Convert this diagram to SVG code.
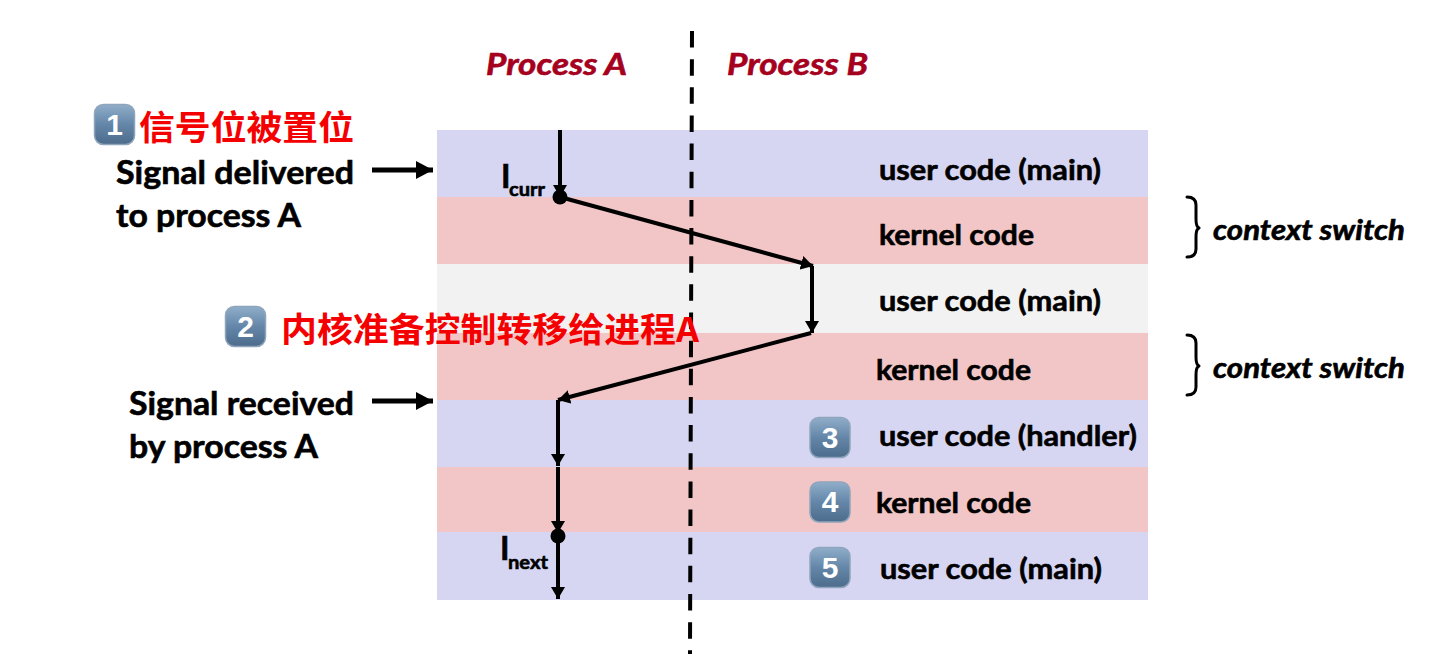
<svg xmlns="http://www.w3.org/2000/svg" width="1440" height="663" viewBox="0 0 1440 663">
<style>
text{font-family:"Lato","Liberation Sans",sans-serif;font-weight:700;fill:#000;stroke:#000;stroke-width:.6}
.l{font-size:32px}
.c{font-size:29px}
.i{font-size:28px;font-style:italic}
.h{font-size:31px;font-style:italic;fill:#a5001e;stroke:#a5001e}
.r{font-family:"Noto Sans CJK SC","Noto Sans",sans-serif;font-size:34px;font-weight:700;fill:#f50000;stroke:none}
.n{font-family:"Liberation Sans",sans-serif;font-size:30px;font-weight:700;fill:#fff;stroke:none;text-anchor:middle}
.s{font-size:19px}
.w{fill:none;stroke:#000;stroke-width:5}
.t{fill:none;stroke:#000;stroke-width:4;marker-end:url(#a)}
.b{fill:none;stroke:#000;stroke-width:3;stroke-linecap:round;stroke-linejoin:round}
.bd{fill:url(#g);stroke:#8fa5bb;stroke-width:1.5}
</style>
<defs>
<linearGradient id="g" x1="0" y1="0" x2="0" y2="1"><stop offset="0" stop-color="#90aeca"/><stop offset=".5" stop-color="#6486a8"/><stop offset="1" stop-color="#4d6c8c"/></linearGradient>
<marker id="a" markerUnits="userSpaceOnUse" markerWidth="14" markerHeight="14" refX="12" refY="7" orient="auto"><path d="M0 0L12 7L0 14Z" fill="#000"/></marker>
<marker id="big" markerUnits="userSpaceOnUse" markerWidth="18" markerHeight="18" refX="17" refY="9" orient="auto"><path d="M0 0L17 9L0 18Z" fill="#000"/></marker>
</defs>
<rect width="1440" height="663" fill="#fff"/>
<g id="bands">
<rect x="437" y="130" width="711" height="67" fill="#d6d6f3"/>
<rect x="437" y="197" width="711" height="67" fill="#f2c6c6"/>
<rect x="437" y="264" width="711" height="69" fill="#f2f2f2"/>
<rect x="437" y="333" width="711" height="67" fill="#f2c6c6"/>
<rect x="437" y="400" width="711" height="67" fill="#d6d6f3"/>
<rect x="437" y="467" width="711" height="65" fill="#f2c6c6"/>
<rect x="437" y="532" width="711" height="68" fill="#d6d6f3"/>
</g>
<g id="connectors">
<path d="M692 31L690 654" fill="none" stroke="#000" stroke-width="4" stroke-dasharray="16.500 11.650"/>
<path class="t" d="M560 130V197"/>
<path class="t" d="M560 197L813 266"/>
<path class="t" d="M812 266V333"/>
<path class="t" d="M811 333L558 400"/>
<path class="t" d="M558 400V466"/>
<path class="t" d="M558 467V533"/>
<path class="t" d="M558 536V599"/>
<circle cx="560" cy="197" r="7.500"/>
<circle cx="558" cy="536" r="7.500"/>
<path d="M372 170H433" class="w" marker-end="url(#big)"/>
<path d="M372 401H433" class="w" marker-end="url(#big)"/>
<path class="b" d="M1187 197Q1196 197 1196 205V219Q1196 227 1199 228Q1196 229 1196 237V249Q1196 257 1187 257"/>
<path class="b" d="M1187 335Q1196 335 1196 343V357Q1196 365 1199 366Q1196 367 1196 375V387Q1196 395 1187 395"/>
</g>
<g id="header-a"><text class="h" x="486" y="75" textLength="141" lengthAdjust="spacingAndGlyphs">Process A</text></g>
<g id="header-b"><text class="h" x="727" y="75" textLength="141" lengthAdjust="spacingAndGlyphs">Process B</text></g>
<g id="step1">
<rect class="bd" x="94.500" y="104.500" width="40" height="40" rx="9"/><text class="n" x="114.500" y="135">1</text>
<text class="r" x="139" y="140" textLength="215" lengthAdjust="spacingAndGlyphs">信号位被置位</text>
</g>
<g id="delivered">
<text class="l" x="116" y="184" textLength="238" lengthAdjust="spacingAndGlyphs">Signal delivered</text>
<text class="l" x="116" y="227" textLength="185" lengthAdjust="spacingAndGlyphs">to process A</text>
</g>
<g id="step2">
<rect class="bd" x="225.500" y="306.500" width="40" height="40" rx="9"/><text class="n" x="245.500" y="337">2</text>
<text class="r" x="281" y="342" textLength="418" lengthAdjust="spacingAndGlyphs">内核准备控制转移给进程A</text>
</g>
<g id="received">
<text class="l" x="129" y="415" textLength="225" lengthAdjust="spacingAndGlyphs">Signal received</text>
<text class="l" x="129" y="458" textLength="189" lengthAdjust="spacingAndGlyphs">by process A</text>
</g>
<g id="icurr"><text class="l" x="501" y="188">I</text><text class="s" x="509" y="196" textLength="36" lengthAdjust="spacingAndGlyphs">curr</text></g>
<g id="inext"><text class="l" x="500" y="560">I</text><text class="s" x="508" y="569" textLength="40" lengthAdjust="spacingAndGlyphs">next</text></g>
<g id="row1"><text class="c" x="879" y="180" textLength="222" lengthAdjust="spacingAndGlyphs">user code (main)</text></g>
<g id="row2"><text class="c" x="879" y="245" textLength="155" lengthAdjust="spacingAndGlyphs">kernel code</text></g>
<g id="row3"><text class="c" x="879" y="311" textLength="222" lengthAdjust="spacingAndGlyphs">user code (main)</text></g>
<g id="row4"><text class="c" x="876" y="380" textLength="155" lengthAdjust="spacingAndGlyphs">kernel code</text></g>
<g id="row5">
<rect class="bd" x="810" y="417.500" width="40" height="40" rx="9"/><text class="n" x="830" y="448">3</text>
<text class="c" x="879" y="446" textLength="258" lengthAdjust="spacingAndGlyphs">user code (handler)</text>
</g>
<g id="row6">
<rect class="bd" x="810" y="482" width="40" height="40" rx="9"/><text class="n" x="830" y="512">4</text>
<text class="c" x="876" y="513" textLength="155" lengthAdjust="spacingAndGlyphs">kernel code</text>
</g>
<g id="row7">
<rect class="bd" x="810" y="547.500" width="40" height="40" rx="9"/><text class="n" x="830" y="578">5</text>
<text class="c" x="880" y="579" textLength="222" lengthAdjust="spacingAndGlyphs">user code (main)</text>
</g>
<g id="switch1"><text class="i" x="1213" y="240" textLength="192" lengthAdjust="spacingAndGlyphs">context switch</text></g>
<g id="switch2"><text class="i" x="1213" y="378" textLength="192" lengthAdjust="spacingAndGlyphs">context switch</text></g>
</svg>
